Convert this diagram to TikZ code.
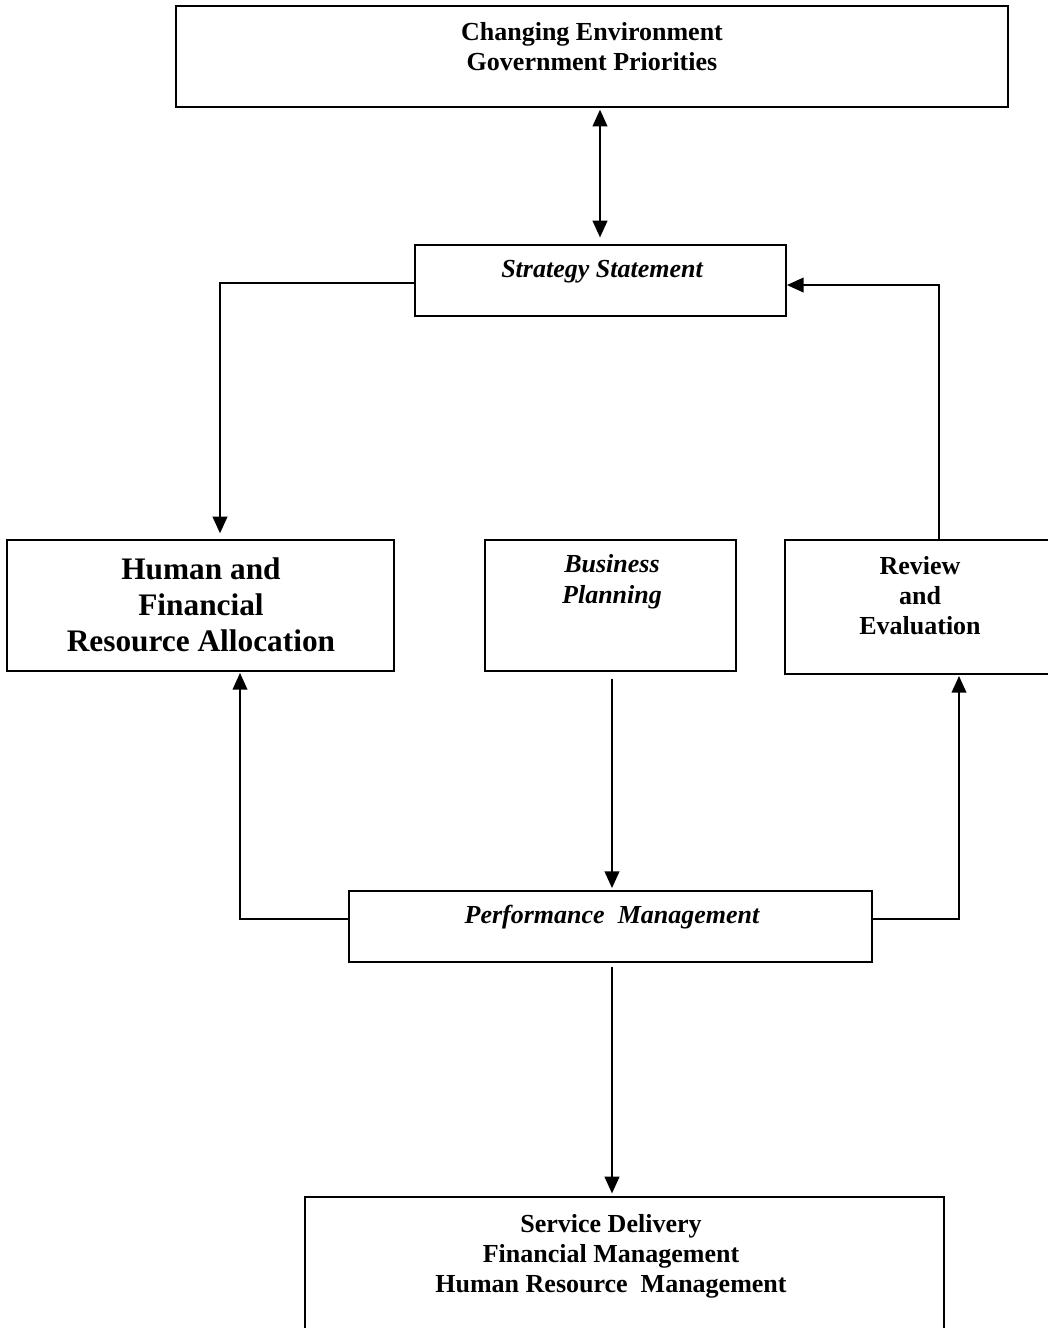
\documentclass[tikz,border=0pt]{standalone}
\usepackage{fontspec}
\setmainfont{Liberation Serif}
\usetikzlibrary{arrows.meta}
\begin{document}
\begin{tikzpicture}[x=0.75pt,y=-0.75pt,
  box/.style={draw=black,line width=1.4pt,inner sep=0pt,fill=white},
  txt/.style={align=center,inner sep=0pt,font=\bfseries\fontsize{19.5}{22.5}\selectfont},
  itx/.style={align=center,inner sep=0pt,font=\bfseries\itshape\fontsize{19.5}{23}\selectfont},
  big/.style={align=center,inner sep=0pt,font=\bfseries\fontsize{23.5}{27}\selectfont},
  conn/.style={line width=1.35pt,draw=black},
  arr/.style={conn,-{Triangle[length=12.5pt,width=11pt]}},
  darr/.style={conn,{Triangle[length=12.5pt,width=11pt]}-{Triangle[length=12.5pt,width=11pt]}}]
\useasboundingbox (0,0) rectangle (1048,1328);
\fill[white] (0,0) rectangle (1048,1328);
% boxes
\node[box,minimum width=624pt,minimum height=75.75pt] (env) at (592,56.5) {};
\node[box,minimum width=278.25pt,minimum height=53.25pt] (strat) at (600.5,280.5) {};
\node[box,minimum width=290.25pt,minimum height=98.25pt] (hum) at (200.5,605.5) {};
\node[box,minimum width=188.25pt,minimum height=98.25pt] (bus) at (610.5,605.5) {};
\node[box,minimum width=200.25pt,minimum height=100.5pt] (rev) at (918.5,607) {};
\node[box,minimum width=392.25pt,minimum height=53.25pt] (perf) at (610.5,926.5) {};
\node[box,minimum width=479.25pt,minimum height=102.75pt] (svc) at (624.5,1265.5) {};
% texts
\node[txt] (envt) at (592,47) {Changing Environment\\Government Priorities};
\node[itx] (stratt) at (602,272) {Strategy Statement};
\node[big] (humt) at (201,605) {Human and\\Financial\\Resource Allocation};
\node[itx,font=\bfseries\itshape\fontsize{19.5}{23.5}\selectfont] (bust) at (612,582) {Business\\Planning};
\node[txt] (revt) at (920,596) {Review\\and\\Evaluation};
\node[itx] (perft) at (612,917) {Performance\ \ Management};
\node[txt] (svct) at (611,1256) {Service Delivery\\Financial Management\\Human Resource\ \ Management};
% connector corner points
\coordinate (eB) at (600,107);
\coordinate (hA) at (220,540);
\coordinate (rT) at (939,540);
\coordinate (hB) at (240,671);
\coordinate (rB) at (959,674);
\coordinate (bB) at (612,671);
\coordinate (pB) at (612,962);
% connectors
\draw[darr,shorten <=2pt,shorten >=5pt] (eB) -- (eB |- strat.north);
\draw[arr,shorten >=5pt] ([yshift=-1.9pt]strat.west) -| (hA);
\draw[arr] (rT) |- ([yshift=-3.4pt]strat.east);
\draw[arr,shorten <=6pt,shorten >=1.5pt] (bB) -- (bB |- perf.north);
\draw[arr,shorten >=1.5pt] ([yshift=5.6pt]perf.west) -| (hB);
\draw[arr,shorten >=1.5pt] ([yshift=5.6pt]perf.east) -| (rB);
\draw[arr,shorten <=4pt,shorten >=2pt] (pB) -- (pB |- svc.north);
\end{tikzpicture}
\end{document}
